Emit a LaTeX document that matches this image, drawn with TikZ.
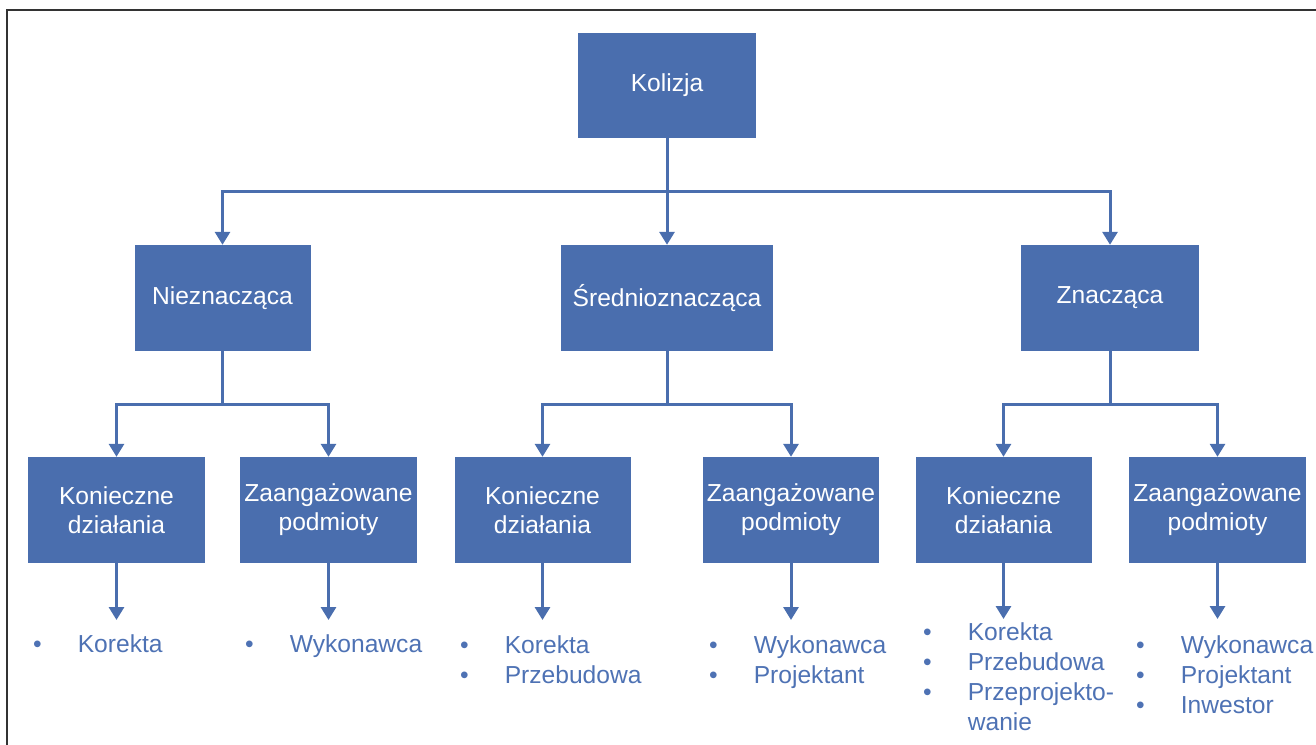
\documentclass[tikz,border=0pt]{standalone}
\usepackage{fontspec}
\setmainfont{Liberation Sans}
\usetikzlibrary{arrows.meta}
\definecolor{boxblue}{RGB}{74,110,174}
\definecolor{listblue}{RGB}{78,114,180}
\begin{document}
\begin{tikzpicture}[x=1pt,y=-1pt,
  box/.style={fill=boxblue, text=white, font=\fontsize{24.6}{29}\selectfont, align=center, inner sep=0pt, minimum height=106pt},
  conn/.style={draw=boxblue, line width=3pt},
  arr/.style={conn, -{Triangle[width=15pt,length=13pt]}},
  blist/.style={text=listblue, font=\fontsize{24.6}{30}\selectfont, inner sep=0pt, anchor=base west}]
\clip (0,0) rectangle (1316,744);
\draw[line width=2pt, black!80] (7,10) rectangle (1400,800);

% level 1
\node[box, minimum width=178pt, minimum height=105pt] (kol) at (667,85) {Kolizja};
% level 2
\node[box, minimum width=176pt] (nie) at (222.5,298) {Nieznacząca};
\node[box, minimum width=212pt] (sre) at (667,298) {Średnioznacząca};
\node[box, minimum width=178pt] (zna) at (1110,298) {Znacząca};
% level 3
\node[box, minimum width=177pt] (k1) at (116.5,510) {Konieczne\\działania};
\node[box, minimum width=177pt] (z1) at (328.5,510) {Zaangażowane\\podmioty};
\node[box, minimum width=176pt] (k2) at (542.5,510) {Konieczne\\działania};
\node[box, minimum width=176pt] (z2) at (791,510) {Zaangażowane\\podmioty};
\node[box, minimum width=176pt] (k3) at (1003.5,510) {Konieczne\\działania};
\node[box, minimum width=177pt] (z3) at (1217.5,510) {Zaangażowane\\podmioty};

% connectors level 1 -> 2
\draw[arr] (kol.south) -- ++(0,54) -| (nie.north);
\draw[arr] (kol.south) -- (sre.north);
\draw[arr] (kol.south) -- ++(0,54) -| (zna.north);
% level 2 -> 3
\draw[arr] (nie.south) -- ++(0,53) -| (k1.north);
\draw[arr] (nie.south) -- ++(0,53) -| (z1.north);
\draw[arr] (sre.south) -- ++(0,53) -| (k2.north);
\draw[arr] (sre.south) -- ++(0,53) -| (z2.north);
\draw[arr] (zna.south) -- ++(0,53) -| (k3.north);
\draw[arr] (zna.south) -- ++(0,53) -| (z3.north);

% arrow ends
\coordinate (k1e) at (116.5,620);
\coordinate (z1e) at (328.5,620);
\coordinate (k2e) at (542.5,620);
\coordinate (z2e) at (791,620);
\coordinate (k3e) at (1003.5,619);
\coordinate (z3e) at (1217.5,619);
\draw[arr] (k1.south) -- (k1e);
\draw[arr] (z1.south) -- (z1e);
\draw[arr] (k2.south) -- (k2e);
\draw[arr] (z2.south) -- (z2e);
\draw[arr] (k3.south) -- (k3e);
\draw[arr] (z3.south) -- (z3e);

% lists
\node[blist] (l1) at (33,652) {\begin{tabular}[t]{@{}l@{\hspace{36pt}}l@{}}\textbullet & Korekta\end{tabular}};
\node[blist] (l2) at (245,652) {\begin{tabular}[t]{@{}l@{\hspace{36pt}}l@{}}\textbullet & Wykonawca\end{tabular}};
\node[blist] (l3) at (460,653) {\begin{tabular}[t]{@{}l@{\hspace{36pt}}l@{}}\textbullet & Korekta\\ \textbullet & Przebudowa\end{tabular}};
\node[blist] (l4) at (709,653) {\begin{tabular}[t]{@{}l@{\hspace{36pt}}l@{}}\textbullet & Wykonawca\\ \textbullet & Projektant\end{tabular}};
\node[blist] (l5) at (923,640) {\begin{tabular}[t]{@{}l@{\hspace{36pt}}l@{}}\textbullet & Korekta\\ \textbullet & Przebudowa\\ \textbullet & Przeprojekto-\\ & wanie\end{tabular}};
\node[blist] (l6) at (1136,653) {\begin{tabular}[t]{@{}l@{\hspace{36pt}}l@{}}\textbullet & Wykonawca\\ \textbullet & Projektant\\ \textbullet & Inwestor\end{tabular}};
\end{tikzpicture}
\end{document}
